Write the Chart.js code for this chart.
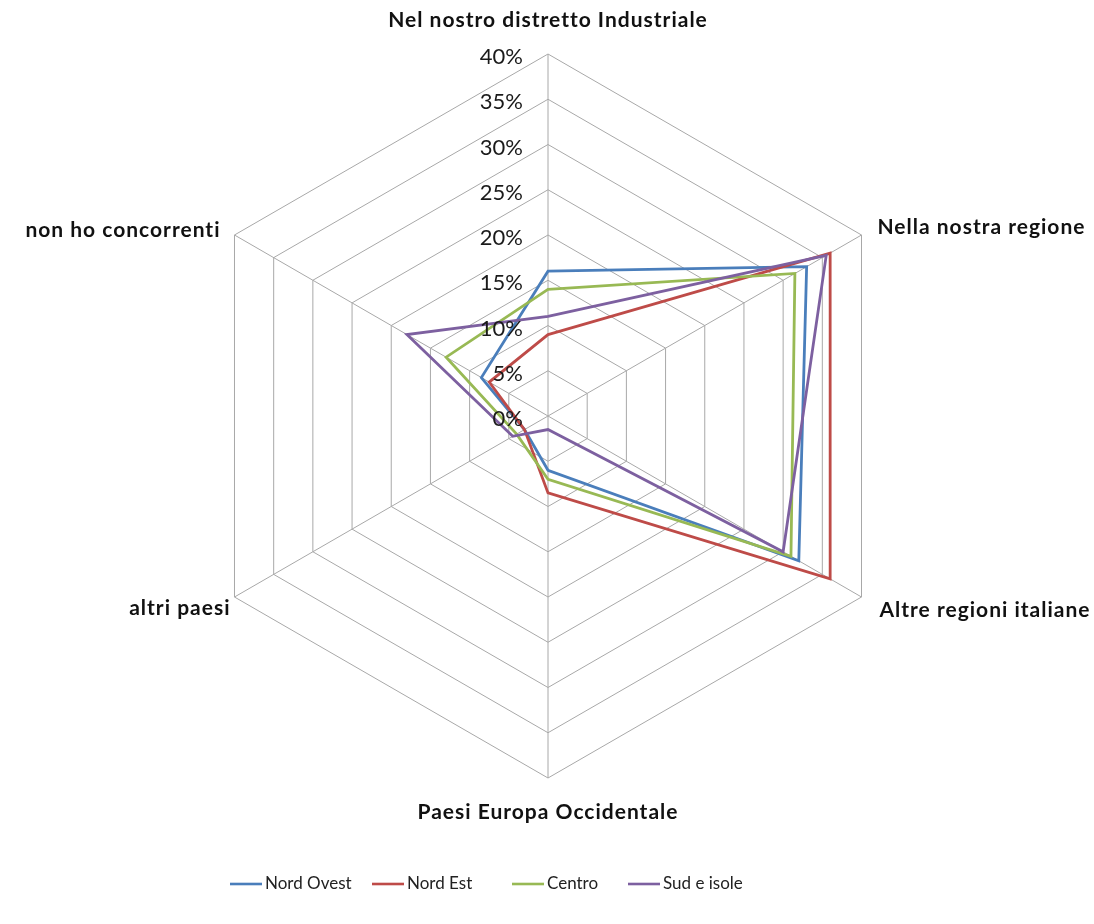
<!DOCTYPE html>
<html>
<head>
<meta charset="utf-8">
<script src="https://cdn.jsdelivr.net/npm/chart.js@4"></script>
<style>
  html, body { margin: 0; padding: 0; background: #ffffff; }
  #wrap { position: relative; width: 1094px; height: 924px; }
</style>
</head>
<body>
<div id="wrap"><canvas id="c"></canvas></div>
<script>
// Axis categories (clockwise from the top)
const categories = [
  'Nel nostro distretto Industriale',
  'Nella nostra regione',
  'Altre regioni italiane',
  'Paesi Europa Occidentale',
  'altri paesi',
  'non ho concorrenti'
];

// Series names and values (percent)
const seriesNames = ['Nord Ovest', 'Nord Est', 'Centro', 'Sud e isole'];
const nordOvest = [16, 33, 32, 6, 3, 8.5];
const nordEst   = [9, 36, 36, 8.5, 3, 7.5];
const centro    = [14, 31.5, 31, 7, 4, 13];
const sudIsole  = [11, 35.5, 30, 1.5, 4.5, 18];

// Radial tick labels
const tickValues = [0, 5, 10, 15, 20, 25, 30, 35, 40];
const tickLabels = ['0%', '5%', '10%', '15%', '20%', '25%', '30%', '35%', '40%'];

const seriesValues = [nordOvest, nordEst, centro, sudIsole];
const seriesColors = ['#4A7EBB', '#BE4B48', '#98B954', '#7D60A0'];

const FONT = 'Lato, "Open Sans", sans-serif';

// Placement of each category label relative to its outer vertex
const labelPlacement = [
  { dx: 0,   dy: -34, align: 'center' },
  { dx: 16,  dy: -8,  align: 'left' },
  { dx: 18,  dy: 13,  align: 'left' },
  { dx: 0,   dy: 34,  align: 'center' },
  { dx: -4,  dy: 11,  align: 'right' },
  { dx: -14, dy: -5,  align: 'right' }
];

// Legend entry start positions
const legendX = [230, 372, 512, 628];
const legendY = 884;

const decorations = {
  id: 'decorations',
  afterDraw(chart) {
    const ctx = chart.ctx;
    const scale = chart.scales.r;
    const cx = scale.xCenter, cy = scale.yCenter;
    ctx.save();

    // radial tick labels, left of the vertical axis
    ctx.font = '22px ' + FONT;
    ctx.fillStyle = '#1a1a1a';
    ctx.textAlign = 'right';
    ctx.textBaseline = 'middle';
    tickValues.forEach((v, i) => {
      const d = scale.getDistanceFromCenterForValue(v);
      ctx.fillText(tickLabels[i], cx - 25, cy - d + 3);
    });

    // category labels
    ctx.font = 'bold 21px ' + FONT;
    ctx.letterSpacing = '1px';
    ctx.fillStyle = '#111111';
    const outer = scale.getDistanceFromCenterForValue(scale.max);
    categories.forEach((txt, i) => {
      const p = scale.getPointPosition(i, outer);
      const pl = labelPlacement[i];
      ctx.textAlign = pl.align;
      ctx.textBaseline = 'middle';
      ctx.fillText(txt, p.x + pl.dx, p.y + pl.dy);
    });
    ctx.letterSpacing = '0px';

    // legend
    ctx.font = '17px ' + FONT;
    ctx.textAlign = 'left';
    ctx.textBaseline = 'middle';
    seriesNames.forEach((name, i) => {
      const x = legendX[i];
      ctx.strokeStyle = seriesColors[i];
      ctx.lineWidth = 2.6;
      ctx.beginPath();
      ctx.moveTo(x, legendY);
      ctx.lineTo(x + 32, legendY);
      ctx.stroke();
      ctx.fillStyle = '#222222';
      ctx.fillText(name, x + 35, legendY);
    });

    ctx.restore();
  }
};

new Chart(document.getElementById('c'), {
  type: 'radar',
  data: {
    labels: categories,
    datasets: seriesNames.map((name, i) => ({
      label: name,
      data: seriesValues[i],
      borderColor: seriesColors[i],
      backgroundColor: 'transparent',
      borderWidth: 2.8,
      fill: false,
      tension: 0,
      pointRadius: 0,
      pointHoverRadius: 0,
      order: seriesNames.length - i
    }))
  },
  options: {
    responsive: true,
    maintainAspectRatio: false,
    animation: false,
    events: [],
    layout: { padding: { left: 186, right: 184, top: 54, bottom: 146 } },
    plugins: {
      legend: { display: false },
      tooltip: { enabled: false },
      title: { display: false }
    },
    scales: {
      r: {
        min: 0,
        max: 40,
        ticks: { stepSize: 5, display: false },
        grid: { color: '#a8a8a8', lineWidth: 1, circular: false },
        angleLines: { color: '#a8a8a8', lineWidth: 1 },
        pointLabels: { display: false }
      }
    }
  },
  plugins: [decorations]
});
</script>
</body>
</html>
